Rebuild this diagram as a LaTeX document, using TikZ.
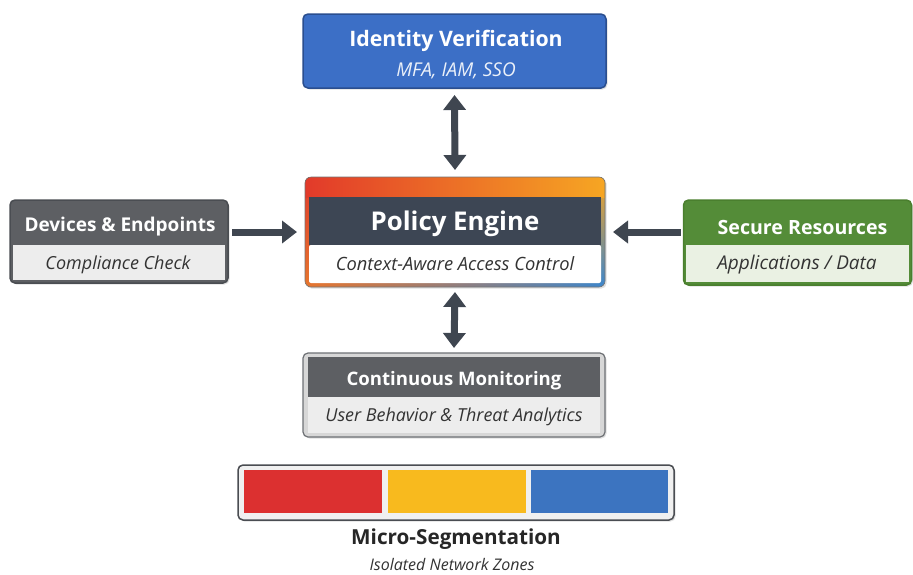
\documentclass[tikz,border=0pt]{standalone}
\usepackage{fontspec}
\setmainfont{Open Sans}
\usetikzlibrary{arrows.meta,fadings,shadows}

\definecolor{arrowgray}{HTML}{3F4650}
\definecolor{idblue}{HTML}{3C6FC6}
\definecolor{idedge}{HTML}{2A4E8F}
\definecolor{slate}{HTML}{3D4654}
\definecolor{hdrgray}{HTML}{5D5F63}
\definecolor{edgegray}{HTML}{4A4D52}
\definecolor{lightgray}{HTML}{EDEDED}
\definecolor{hdrgreen}{HTML}{548C38}
\definecolor{edgegreen}{HTML}{4A7F2E}
\definecolor{lightgreen}{HTML}{EAF1E3}
\definecolor{zonered}{HTML}{DC3030}
\definecolor{zoneyellow}{HTML}{F8BA1E}
\definecolor{zoneblue}{HTML}{3C74C0}
\definecolor{subtext}{HTML}{333333}
\definecolor{stripered}{HTML}{E23A2A}
\definecolor{stripeorange}{HTML}{F07A22}
\definecolor{stripeyellow}{HTML}{F6A623}
\definecolor{frameorange}{HTML}{E8772E}
\definecolor{frameblue}{HTML}{3A86CF}

\tikzset{
  boxshape/.style={rounded corners=5pt, inner sep=0pt, outer sep=0pt,
    drop shadow={shadow xshift=1.5pt, shadow yshift=-1.5pt, opacity=0.25}},
  titletext/.style={font=\bfseries\fontsize{19}{22}\selectfont, text=white},
  subtitle/.style={font=\itshape\fontsize{18}{21}\selectfont, text=subtext},
  flowarrow/.style={draw=arrowgray, line width=7pt,
    -{Triangle[width=22pt,length=15pt]}},
  dblarrow/.style={draw=arrowgray, line width=7pt,
    {Triangle[width=22pt,length=15pt]}-{Triangle[width=22pt,length=15pt]}},
}

\begin{document}
\begin{tikzpicture}[x=1pt,y=-1pt]
\useasboundingbox (0,0) rectangle (913,574);
\fill[white] (0,0) rectangle (913,574);

% ---- Identity Verification ----
\node[boxshape, fill=idblue, draw=idedge, line width=1.5pt,
      minimum width=303pt, minimum height=74pt] (iv) at (454.5,51) {};
\node[titletext, font=\bfseries\fontsize{21.3}{24}\selectfont] (ivt) at (456,40.5) {Identity Verification};
\node[subtitle, font=\itshape\fontsize{19}{22}\selectfont, text=white!90!idblue] (ivs) at (456,71) {MFA, IAM, SSO};

% ---- Policy Engine (gradient frame) ----
\node[boxshape, minimum width=300pt, minimum height=110pt] (pe) at (455,232) {};
\begin{scope}
  \clip[rounded corners=6pt] (pe.north west) rectangle (pe.south east);
  \shade[left color=frameorange, right color=frameblue]
    (pe.north west) rectangle (pe.south east);
  \shade[left color=stripered, right color=stripeyellow, middle color=stripeorange,
         path fading=south]
    (pe.north west) rectangle (pe.south east);
  \shade[left color=stripered, middle color=stripeorange, right color=stripeyellow]
    (pe.north west) rectangle ([yshift=-20pt]pe.north east);
\end{scope}
\draw[black!55, line width=0.6pt, rounded corners=6pt] (pe.north west) rectangle (pe.south east);
\fill[slate] (309,197) rectangle (601,245);
\fill[white, rounded corners=2pt] (309,245) rectangle (601,283);
\node[titletext, font=\bfseries\fontsize{25.8}{29}\selectfont] (pet) at (455,223.5) {Policy Engine};
\node[subtitle, font=\itshape\fontsize{18.3}{21}\selectfont] (pes) at (455,264) {Context-Aware Access Control};

% ---- Devices & Endpoints ----
\node[boxshape, fill=hdrgray, draw=edgegray, line width=1.5pt,
      minimum width=218pt, minimum height=83pt] (de) at (119,241.5) {};
\fill[lightgray] (13,245) rectangle (225,280);
\node[titletext] (det) at (120,227) {Devices \& Endpoints};
\node[subtitle] (des) at (118,265) {Compliance Check};

% ---- Secure Resources ----
\node[boxshape, fill=hdrgreen, draw=edgegreen, line width=1.5pt,
      minimum width=228pt, minimum height=85pt] (sr) at (797.5,242.5) {};
\fill[lightgreen] (686,245) rectangle (909,282);
\node[titletext, font=\bfseries\fontsize{19.6}{22}\selectfont] (srt) at (802.5,227) {Secure Resources};
\node[subtitle, font=\itshape\fontsize{19}{22}\selectfont] (srs) at (797,265) {Applications / Data};

% ---- Continuous Monitoring ----
\node[boxshape, fill=lightgray!80!gray, draw=edgegray!80, line width=1.2pt,
      minimum width=302pt, minimum height=84pt] (cm) at (454,395) {};
\fill[hdrgray] (308,357) rectangle (600,397);
\fill[lightgray] (308,397) rectangle (600,433);
\node[titletext, font=\bfseries\fontsize{18.6}{22}\selectfont] (cmt) at (454,381) {Continuous Monitoring};
\node[subtitle, font=\itshape\fontsize{17.9}{21}\selectfont] (cms) at (454,417) {User Behavior \& Threat Analytics};

% ---- Micro-Segmentation ----
\node[boxshape, fill=gray!12, draw=edgegray, line width=1.5pt,
      minimum width=436pt, minimum height=55pt] (ms) at (456,492.5) {};
\fill[zonered]    (244,470) rectangle (382,513);
\fill[zoneyellow] (388,470) rectangle (526,513);
\fill[zoneblue]   (531,470) rectangle (668,513);
\node[font=\bfseries\fontsize{20.7}{24}\selectfont, text=black!85] (mst) at (456,539.5) {Micro-Segmentation};
\node[subtitle, inner sep=0pt, font=\itshape\fontsize{16}{19}\selectfont] (mss) at (452,564) {Isolated Network Zones};

% ---- Connectors ----
\draw[dblarrow] ([yshift=-7pt]iv.south) -- ([yshift=7pt]pe.north);
\draw[dblarrow] ([yshift=-5pt]pe.south) -- ([yshift=5pt]cm.north);
\draw[flowarrow] ([xshift=4pt]de.east |- pe.west) -- ([xshift=-8pt]pe.west);
\draw[flowarrow] ([xshift=-3pt]sr.west |- pe.east) -- ([xshift=8pt]pe.east);
\end{tikzpicture}
\end{document}
